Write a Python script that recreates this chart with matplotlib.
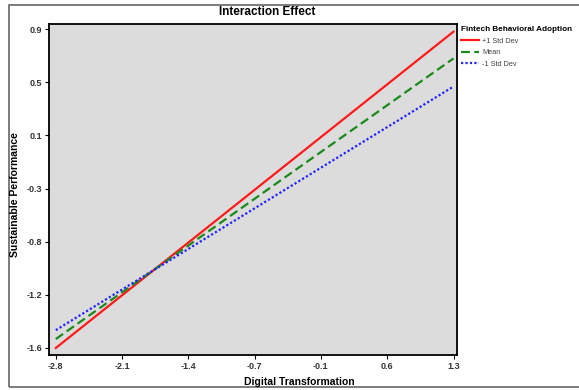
import numpy as np
import matplotlib
matplotlib.use("Agg")
import matplotlib.pyplot as plt
from matplotlib.patches import Rectangle

plt.rcParams["font.family"] = ["Liberation Sans", "DejaVu Sans"]

# 数据
x_vals = [-2.8, 1.3]
y_plus = [-1.60, 0.88]     # +1 Std Dev
y_mean = [-1.53, 0.67]     # Mean
y_minus = [-1.46, 0.45]    # -1 Std Dev
xtick_labels = ["-2.8", "-2.1", "-1.4", "-0.7", "-0.1", "0.6", "1.3"]
ytick_labels = ["-1.6", "-1.2", "-0.8", "-0.3", "0.1", "0.5", "0.9"]

W, H = 579, 390
fig = plt.figure(figsize=(W / 100, H / 100), dpi=100)
ax = fig.add_axes([49 / W, 1 - 355 / H, (457 - 49) / W, (355 - 24) / H])
ax.set_facecolor("#dcdcdc")

ax.plot(x_vals, y_plus, color="#ff1a1a", lw=1.6, label="+1 Std Dev")
ax.plot(x_vals, y_mean, color="#1a8a1a", lw=1.6, ls=(0, (4, 2)), label="Mean")
ax.plot(x_vals, y_minus, color="#2222ff", lw=1.6, ls=(0, (1, 1)), label="-1 Std Dev")

ax.set_xlim(-2.87, 1.336)
ax.set_ylim(-1.655, 0.94)
ax.set_xticks(np.linspace(-2.8, 1.3, 7))
ax.set_xticklabels(xtick_labels)
ax.set_yticks(np.linspace(-1.6, 0.9, 7))
ax.set_yticklabels(ytick_labels)
ax.tick_params(labelsize=6.5, length=3, width=0.8, pad=2)
for lab in ax.get_xticklabels() + ax.get_yticklabels():
    lab.set_fontweight("bold")
    lab.set_color("#333333")
for s in ax.spines.values():
    s.set_linewidth(1.3)

# 标题和轴标签（参考图中位置不居中，按像素放置）
fig.text(267 / W, 1 - 12 / H, "Interaction Effect", fontsize=8.5,
         fontweight="bold", ha="center", va="center")
fig.text(299 / W, 1 - 382 / H, "Digital Transformation", fontsize=7.5,
         fontweight="bold", ha="center", va="center")
fig.text(15 / W, 1 - 195 / H, "Sustainable Performance", fontsize=7.5,
         fontweight="bold", ha="center", va="center", rotation=90)

leg = ax.legend(loc="upper left", bbox_to_anchor=(458 / W, 1 - 23 / H),
                bbox_transform=fig.transFigure, frameon=False,
                title="Fintech Behavioral Adoption", fontsize=5.3,
                title_fontproperties={"weight": "bold", "size": 5.9},
                handlelength=2.4, handletextpad=0.5, labelspacing=0.6,
                borderaxespad=0.2, borderpad=0.2)
leg._legend_box.align = "left"
for t in leg.get_texts():
    t.set_color("#444444")

# 外框
fig.patches.append(Rectangle((9 / W, 3 / H), 1.2, 382 / H,
                             transform=fig.transFigure, fill=False,
                             edgecolor="#666666", lw=1.2))

fig.savefig("out.png", dpi=100)
